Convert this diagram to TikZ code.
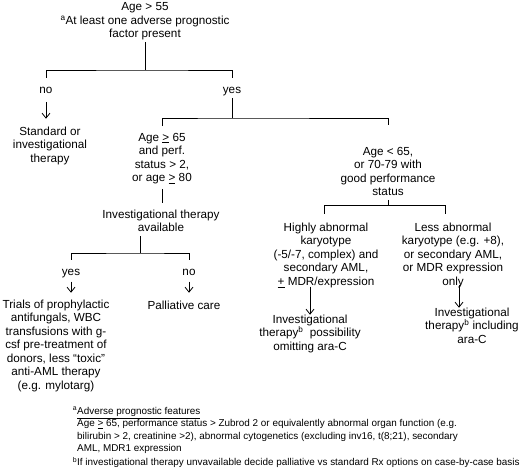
\documentclass[tikz,border=0pt]{standalone}
\usepackage{fontspec}
\setmainfont{Liberation Sans}
\usetikzlibrary{arrows.meta}
\begin{document}
\begin{tikzpicture}[x=1pt,y=-1pt,
  lbl/.style={align=center,inner sep=0pt,anchor=north,font=\fontsize{11.7}{13.5}\selectfont,execute at begin node=\strut,execute at end node=\strut},
  fn/.style={align=left,inner sep=0pt,anchor=north west,font=\fontsize{9.9}{12.3}\selectfont,execute at begin node=\strut,execute at end node=\strut},
  ln/.style={line width=0.8pt},
  arr/.style={ln,-{Straight Barb[length=5pt,width=8pt,line width=0.8pt]}}]
\useasboundingbox (0,0) rectangle (520,468);

\node[lbl] (root) at (145,2.75) {Age > 55\\\textsuperscript{a}At least one adverse prognostic\\factor present};
\node[lbl] (no) at (46,84) {no};
\node[lbl] (yes) at (232,84) {yes};
\node[lbl] (std) at (50,126.75) {Standard or\\investigational\\therapy};
\node[lbl] (age65) at (162,132.75) {Age \underline{>} 65\\and perf.\\status > 2,\\or age \underline{>} 80};
\node[lbl] (inv) at (161,209.75) {Investigational therapy\\available};
\node[lbl] (yes2) at (71,265.75) {yes};
\node[lbl] (no2) at (189,265.75) {no};
\node[lbl] (trials) at (56,299.75) {Trials of prophylactic\\antifungals, WBC\\transfusions with g-\\csf pre-treatment of\\donors, less “toxic”\\anti-AML therapy\\(e.g. mylotarg)};
\node[lbl] (pall) at (184,299.75) {Palliative care};
\node[lbl] (agelt) at (388,146.75) {Age < 65,\\or 70-79 with\\good performance\\status};
\node[lbl] (high) at (326,222.75) {Highly abnormal\\karyotype\\(-5/-7, complex) and\\secondary AML,\\\underline{+} MDR/expression};
\node[lbl] (less) at (453,222.75) {Less abnormal\\karyotype (e.g. +8),\\or secondary AML,\\or MDR expression\\only};
\node[lbl] (mid) at (310,314.75) {Investigational\\therapy\textsuperscript{b}\ \ possibility\\omitting ara-C};
\node[lbl] (right) at (472,307.75) {Investigational\\therapy\textsuperscript{b} including\\ara-C};

\node[fn] (fnA) at (77,407) {\llap{\textsuperscript{a}}\underline{Adverse prognostic features}\\
Age \underline{>} 65, performance status > Zubrod 2 or equivalently abnormal organ function (e.g.\\
bilirubin > 2, creatinine >2), abnormal cytogenetics (excluding inv16, t(8;21), secondary\\
AML, MDR1 expression};
\node[fn] (fnB) at (77,457) {\llap{\textsuperscript{b}}If investigational therapy unvavailable decide palliative vs standard Rx options on case-by-case basis};

% level 1
\coordinate (b1) at (145,70);
\draw[ln] (root.south) -- (b1);
\draw[ln] ([yshift=6pt]no.north) |- (b1) -| ([yshift=6pt]yes.north);
\draw[arr,shorten <=4pt,shorten >=8pt] (no.south) -- (no.south |- std.north);

% level 2
\coordinate (b2) at (232,118);
\draw[ln] (yes.south) -- (b2);
\draw[ln] ([yshift=6.5pt]age65.north) |- (b2) -| ([yshift=22pt]agelt.north);

% left subtree
\draw[ln,shorten <=3pt,shorten >=6.5pt] (age65.south) -- (age65.south |- inv.north);
\coordinate (b3) at (140,253);
\draw[ln] (inv.south -| b3) -- (b3);
\draw[ln] ([yshift=6pt]yes2.north) |- (b3) -| ([yshift=6pt]no2.north);
\draw[arr,shorten <=2pt,shorten >=7pt] (yes2.south) -- (yes2.south |- trials.north);
\draw[arr,shorten <=2pt,shorten >=7pt] (no2.south) -- (no2.south |- pall.north);

% right subtree
\coordinate (b4) at (388,205);
\coordinate (b4l) at (324,205);
\coordinate (b4r) at (445,205);
\draw[ln] (agelt.south) -- (b4);
\draw[ln] ([yshift=9pt]high.north -| b4l) -- (b4l) -- (b4r) -- ([yshift=9pt]less.north -| b4r);
\draw[arr,shorten <=-3pt] (high.south -| mid.north) -- (mid.north);
\coordinate (a6) at (459,300);
\draw[arr,shorten <=-5pt] (less.south -| a6) -- (right.north -| a6);
\end{tikzpicture}
\end{document}
